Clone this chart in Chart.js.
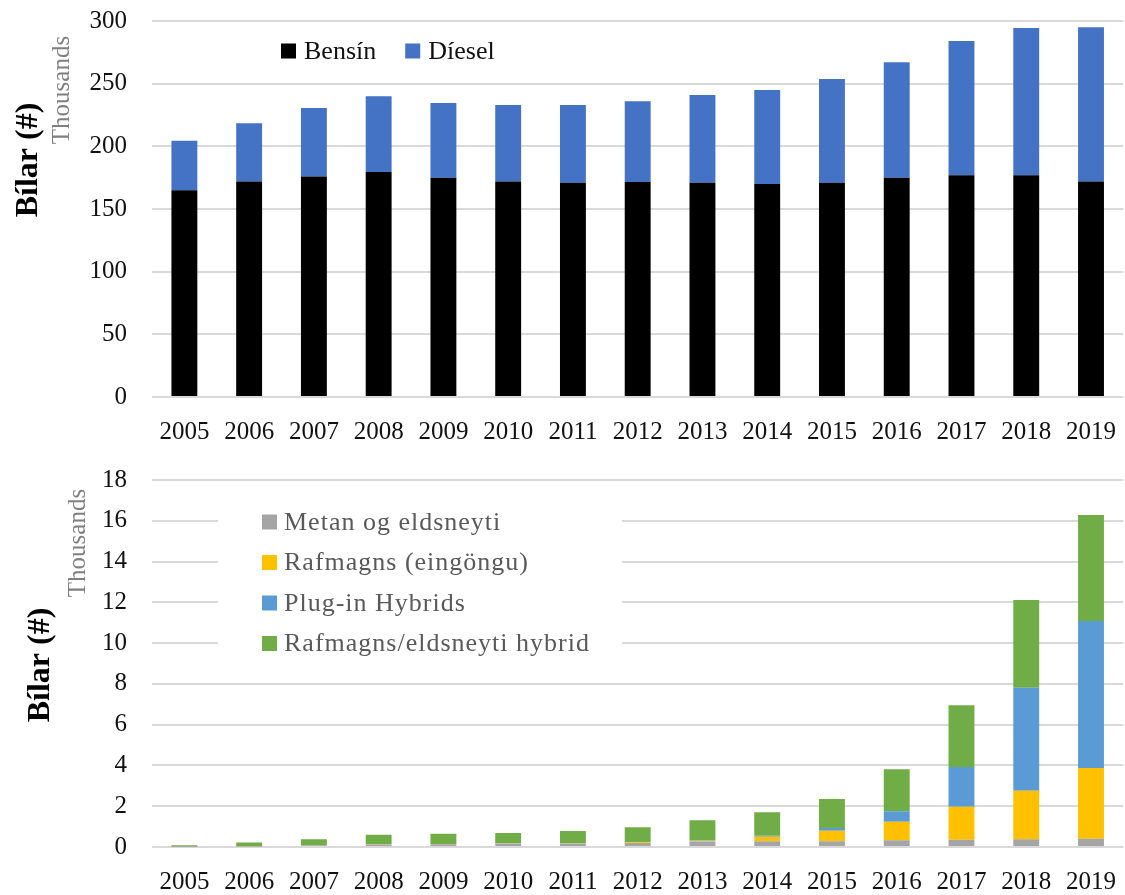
<!DOCTYPE html>
<html>
<head>
<meta charset="utf-8">
<script src="https://cdn.jsdelivr.net/npm/chart.js@4/dist/chart.umd.min.js"></script>
<style>
  html, body { margin: 0; padding: 0; background: #fff; overflow: hidden; }
  #wrap { position: relative; width: 1125px; height: 895px; overflow: hidden; }
  canvas { position: absolute; left: 0; }
  #top-chart { top: -19px; }
  #bottom-chart { top: 440px; }
</style>
</head>
<body>
<div id="wrap">
  <canvas id="top-chart" width="1128" height="469"></canvas>
  <canvas id="bottom-chart" width="1128" height="455"></canvas>
</div>
<script>
// Data (thousands of cars)
const years = ['2005', '2006', '2007', '2008', '2009', '2010', '2011', '2012', '2013', '2014', '2015', '2016', '2017', '2018', '2019'];

const bensin = [165, 172, 176, 179.5, 175, 172, 171, 171.5, 171, 170, 171, 175, 177, 177, 172];
const diesel = [39.5, 46.5, 54.5, 60.5, 59.6, 61, 62, 64.5, 70, 75, 82.7, 92, 107, 117.4, 123];

const metan = [0.01, 0.03, 0.08, 0.12, 0.13, 0.17, 0.17, 0.2, 0.27, 0.28, 0.28, 0.33, 0.36, 0.38, 0.4];
const rafmagns = [0.005, 0.005, 0.01, 0.02, 0.02, 0.02, 0.02, 0.03, 0.04, 0.22, 0.52, 0.91, 1.62, 2.38, 3.47];
const plugin = [0, 0, 0, 0, 0, 0, 0, 0, 0.02, 0.05, 0.13, 0.51, 1.94, 5.05, 7.21];
const hybrid = [0.07, 0.19, 0.29, 0.46, 0.5, 0.5, 0.59, 0.74, 0.98, 1.15, 1.42, 2.06, 3.03, 4.3, 5.2];

const topTicks = { min: 0, max: 300, step: 50 };
const bottomTicks = { min: 0, max: 18, step: 2 };

const SERIF = '"Liberation Serif", "Times New Roman", serif';
const GRID = '#d9d9d9';

// draws rotated axis titles
const sideLabels = {
  id: 'sideLabels',
  afterDraw(chart, args, opts) {
    const ctx = chart.ctx;
    (opts.items || []).forEach(it => {
      ctx.save();
      ctx.translate(it.x, it.y);
      ctx.rotate(-Math.PI / 2);
      ctx.font = it.font;
      ctx.fillStyle = it.color;
      ctx.textAlign = 'center';
      ctx.textBaseline = 'middle';
      ctx.fillText(it.text, 0, 0);
      ctx.restore();
    });
  }
};

// legend placed inside the plot, drawn from the datasets
const boxLegend = {
  id: 'boxLegend',
  afterDraw(chart, args, opts) {
    if (!opts.x) return;
    const ctx = chart.ctx;
    ctx.save();
    if (opts.bg) {
      ctx.fillStyle = '#fff';
      ctx.fillRect(opts.bg[0], opts.bg[1], opts.bg[2], opts.bg[3]);
    }
    ctx.font = opts.font;
    if (opts.letterSpacing) ctx.letterSpacing = opts.letterSpacing;
    ctx.textBaseline = 'middle';
    ctx.textAlign = 'left';
    let x = opts.x, y = opts.y;
    chart.data.datasets.forEach(ds => {
      ctx.fillStyle = ds.backgroundColor;
      ctx.fillRect(x, y - opts.box / 2, opts.box, opts.box);
      ctx.fillStyle = opts.color;
      ctx.fillText(ds.label, x + opts.box + opts.gap, y + 1);
      if (opts.vertical) {
        y += opts.rowStep;
      } else {
        x += opts.box + opts.gap + ctx.measureText(ds.label).width + opts.spacing;
      }
    });
    ctx.restore();
  }
};

const makeOptions = (ticks, xHeight, legendOpts, labelItems) => ({
  responsive: false,
  animation: false,
  layout: { padding: { top: 20, left: 0, right: 0, bottom: 0 } },
  plugins: {
    legend: { display: false },
    tooltip: { enabled: false },
    boxLegend: legendOpts,
    sideLabels: { items: labelItems }
  },
  datasets: { bar: { barPercentage: 0.4, categoryPercentage: 1, borderWidth: 0 } },
  scales: {
    x: {
      stacked: true,
      grid: { display: false },
      border: { display: false },
      ticks: { color: '#111', font: { family: SERIF, size: 25 }, padding: 12, maxRotation: 0, autoSkip: false },
      afterFit: (scale) => { scale.height = xHeight; }
    },
    y: {
      stacked: true,
      min: ticks.min,
      max: ticks.max,
      grid: { color: GRID, lineWidth: 2, drawTicks: false },
      border: { display: false },
      ticks: { stepSize: ticks.step, color: '#111', font: { family: SERIF, size: 25 }, padding: 25 },
      afterFit: (scale) => { scale.width = 152; }
    }
  }
});

new Chart(document.getElementById('top-chart'), {
  type: 'bar',
  data: {
    labels: years,
    datasets: [
      { label: 'Bensín', data: bensin, backgroundColor: '#000000' },
      { label: 'Díesel', data: diesel, backgroundColor: '#4472C4' }
    ]
  },
  options: makeOptions(topTicks, 53, {
    x: 281, y: 70, box: 15, gap: 8, spacing: 29, vertical: false,
    font: '26px ' + SERIF, color: '#111'
  }, [
    { text: 'Bílar (#)', x: 29, y: 179, font: 'bold 32px ' + SERIF, color: '#000' },
    { text: 'Thousands', x: 62, y: 109, font: '25px ' + SERIF, color: '#808080' }
  ]),
  plugins: [boxLegend, sideLabels]
});

new Chart(document.getElementById('bottom-chart'), {
  type: 'bar',
  data: {
    labels: years,
    datasets: [
      { label: 'Metan og eldsneyti', data: metan, backgroundColor: '#A5A5A5' },
      { label: 'Rafmagns (eingöngu)', data: rafmagns, backgroundColor: '#FFC000' },
      { label: 'Plug-in Hybrids', data: plugin, backgroundColor: '#5B9BD5' },
      { label: 'Rafmagns/eldsneyti hybrid', data: hybrid, backgroundColor: '#70AD47' }
    ]
  },
  options: makeOptions(bottomTicks, 48, {
    x: 262, y: 82, box: 15, gap: 7, vertical: true, rowStep: 40.5,
    bg: [218, 62, 404, 160],
    font: '26px ' + SERIF, color: '#595959', letterSpacing: '1px'
  }, [
    { text: 'Bílar (#)', x: 41, y: 225, font: 'bold 32px ' + SERIF, color: '#000' },
    { text: 'Thousands', x: 78, y: 103, font: '25px ' + SERIF, color: '#808080' }
  ]),
  plugins: [boxLegend, sideLabels]
});
</script>
</body>
</html>
